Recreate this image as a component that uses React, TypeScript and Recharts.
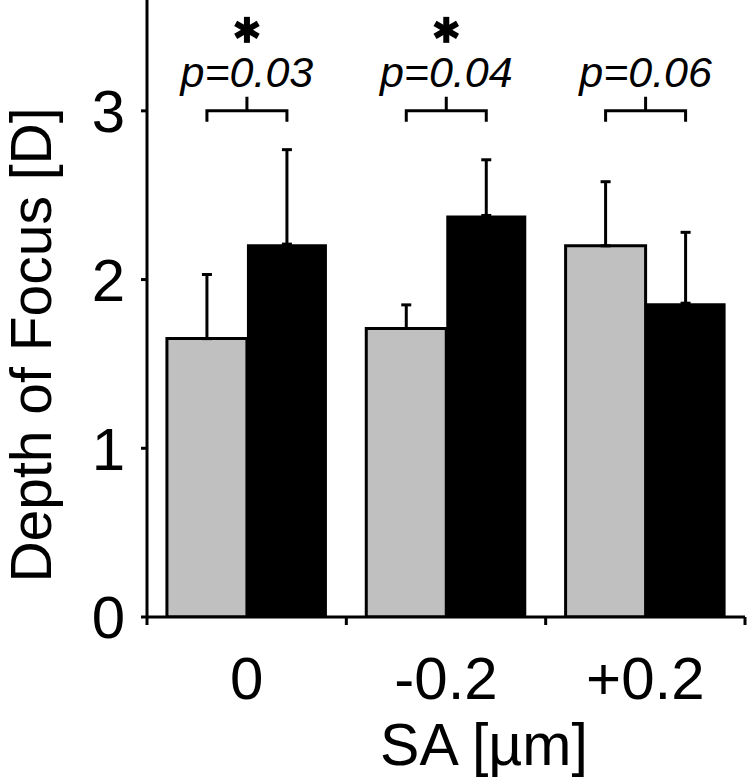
import React from 'react';
import { BarChart, Bar, XAxis, YAxis, ErrorBar, LabelList } from 'recharts';

const categories = ['0', '-0.2', '+0.2'];
const grayValues = [1.65, 1.71, 2.2];
const blackValues = [2.21, 2.38, 1.86];
const grayErrors = [0.38, 0.14, 0.38];
const blackErrors = [0.56, 0.33, 0.42];
const pLabels = ['p=0.03', 'p=0.04', 'p=0.06'];
const significant = [true, true, false];
const yTicks = [0, 1, 2, 3];
const yMax = 3.657;
const bracketLevel = 3;

const FONT = 'Liberation Sans, Arial, Helvetica, sans-serif';
const CHART_W = 747;
const CHART_H = 778;
const Y_AXIS_W = 147;
const RIGHT_M = 2;
const PLOT_W = CHART_W - Y_AXIS_W - RIGHT_M;

const data = categories.map((c, i) => ({
  name: c,
  gray: grayValues[i],
  black: blackValues[i],
  grayErr: [0, grayErrors[i]],
  blackErr: [0, blackErrors[i]],
}));

const Annotation = (props: any) => {
  const vb = props.viewBox ?? props;
  const x = Number(vb.x);
  const y = Number(vb.y);
  const w = Number(vb.width);
  const h = Number(vb.height);
  let idx = props.index;
  if (idx === undefined || idx === null) idx = grayValues.indexOf(Number(props.value));
  if (idx < 0 || !isFinite(x) || !isFinite(h)) return null;
  const v = grayValues[idx];
  const base = y + h;
  const ppu = h / v;
  const yb = base - bracketLevel * ppu;
  const x1 = x + w / 2;
  const x2 = x + 1.5 * w;
  const xm = (x1 + x2) / 2;
  const cy = yb - 81;
  const r = 13;
  const arms = [90, 30, 150];
  return (
    <g>
      <path
        d={`M${x1},${yb + 11} L${x1},${yb} L${x2},${yb} L${x2},${yb + 11} M${xm},${yb} L${xm},${yb - 14}`}
        stroke="#000"
        strokeWidth={3}
        fill="none"
      />
      <text
        x={xm}
        y={yb - 24}
        textAnchor="middle"
        fontSize={43}
        fontStyle="italic"
        fontFamily={FONT}
        fill="#000"
      >
        {pLabels[idx]}
      </text>
      {significant[idx] &&
        arms.map((a) => {
          const rad = (a * Math.PI) / 180;
          const dx = Math.cos(rad) * r;
          const dy = Math.sin(rad) * r;
          return (
            <line
              key={a}
              x1={xm - dx}
              y1={cy - dy}
              x2={xm + dx}
              y2={cy + dy}
              stroke="#000"
              strokeWidth={6}
            />
          );
        })}
    </g>
  );
};

const XTick = (props: any) => {
  const { x, y, payload, index } = props;
  const half =
    payload && Number(payload.offset) > 0 ? Number(payload.offset) : PLOT_W / categories.length / 2;
  return (
    <g>
      <line x1={x - half} x2={x - half} y1={y} y2={y + 8} stroke="#000" strokeWidth={3} />
      {index === categories.length - 1 && (
        <line x1={x + half} x2={x + half} y1={y} y2={y + 8} stroke="#000" strokeWidth={3} />
      )}
      <text x={x} y={y + 82} textAnchor="middle" fontSize={60} fontFamily={FONT} fill="#000">
        {payload.value}
      </text>
    </g>
  );
};

const XLabel = (props: any) => {
  const vb = props.viewBox || {};
  const cx = Number(vb.x) + Number(vb.width) / 2 + 38;
  return (
    <text x={cx} y={765} textAnchor="middle" fontSize={59} fontFamily={FONT} fill="#000">
      SA [µm]
    </text>
  );
};

const YLabel = () => {
  const x = 51;
  const y = 345;
  return (
    <text
      x={x}
      y={y}
      transform={`rotate(-90, ${x}, ${y})`}
      textAnchor="middle"
      fontSize={57}
      fontFamily={FONT}
      fill="#000"
    >
      Depth of Focus [D]
    </text>
  );
};

export default function App() {
  return (
    <div style={{ position: 'absolute', left: 0, top: 0, background: '#fff' }}>
      <BarChart
        width={CHART_W}
        height={CHART_H}
        data={data}
        margin={{ top: 0, right: RIGHT_M, left: 0, bottom: 0 }}
        barGap={0}
        barCategoryGap="10%"
      >
        <XAxis
          dataKey="name"
          height={CHART_H - 617}
          axisLine={{ stroke: '#000', strokeWidth: 3 }}
          tickLine={false}
          tickSize={0}
          tickMargin={0}
          tick={<XTick />}
          interval={0}
          label={(p: any) => <XLabel {...p} />}
        />
        <YAxis
          width={Y_AXIS_W}
          domain={[0, yMax]}
          ticks={yTicks}
          allowDataOverflow
          axisLine={{ stroke: '#000', strokeWidth: 3 }}
          tickLine={{ stroke: '#000', strokeWidth: 3 }}
          tickSize={6}
          tickMargin={16}
          tick={{ fontSize: 60, fill: '#000', fontFamily: FONT }}
          label={() => <YLabel />}
        />
        <Bar dataKey="gray" fill="#c0c0c0" stroke="#000" strokeWidth={3} isAnimationActive={false}>
          <ErrorBar dataKey="grayErr" width={5} stroke="#000" strokeWidth={3} direction="y" />
          <LabelList dataKey="gray" content={<Annotation />} />
        </Bar>
        <Bar dataKey="black" fill="#000" stroke="none" isAnimationActive={false}>
          <ErrorBar dataKey="blackErr" width={5} stroke="#000" strokeWidth={3} direction="y" />
        </Bar>
      </BarChart>
    </div>
  );
}
